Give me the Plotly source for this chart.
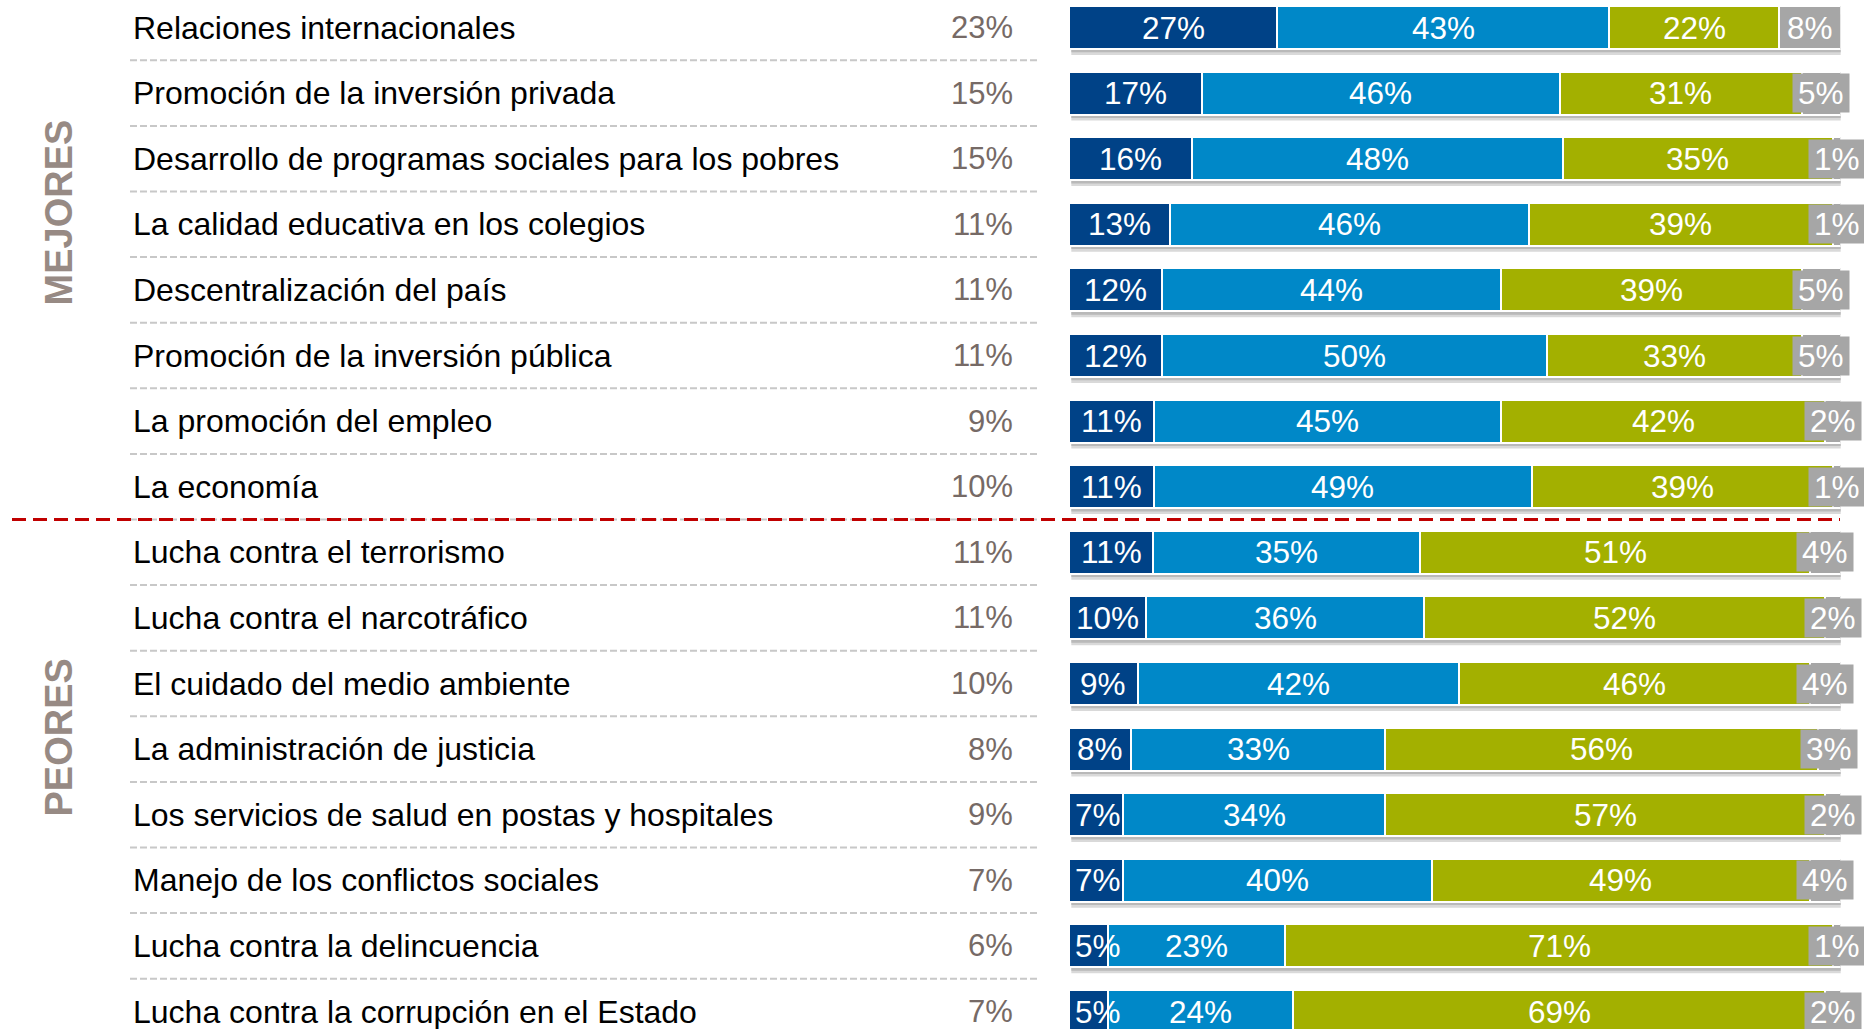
import plotly.graph_objects as go

categories = [
    "Relaciones internacionales",
    "Promoción de la inversión privada",
    "Desarrollo de programas sociales para los pobres",
    "La calidad educativa en los colegios",
    "Descentralización del país",
    "Promoción de la inversión pública",
    "La promoción del empleo",
    "La economía",
    "Lucha contra el terrorismo",
    "Lucha contra el narcotráfico",
    "El cuidado del medio ambiente",
    "La administración de justicia",
    "Los servicios de salud en postas y hospitales",
    "Manejo de los conflictos sociales",
    "Lucha contra la delincuencia",
    "Lucha contra la corrupción en el Estado",
]
column_pct = [23, 15, 15, 11, 11, 11, 9, 10, 11, 11, 10, 8, 9, 7, 6, 7]
s1 = [27, 17, 16, 13, 12, 12, 11, 11, 11, 10, 9, 8, 7, 7, 5, 5]
s2 = [43, 46, 48, 46, 44, 50, 45, 49, 35, 36, 42, 33, 34, 40, 23, 24]
s3 = [22, 31, 35, 39, 39, 33, 42, 39, 51, 52, 46, 56, 57, 49, 71, 69]
s4 = [8, 5, 1, 1, 5, 5, 2, 1, 4, 2, 4, 3, 2, 4, 1, 2]
group_labels = ["MEJORES", "PEORES"]

colors = ["#004287", "#0088c8", "#a3b000", "#a6a6a6"]
FONT = "Arial, Liberation Sans, sans-serif"

W, H = 1864, 1029


def px(xr):
    return xr / W


def py(yr):
    return 1 - yr / H


ROW0, STEP = 27.5, 65.6
X0PX, X1PX = 1069, 1840.7
PX_PER_PCT = (X1PX - X0PX) / 100.0
LBL = 31.5

n = len(categories)
ypos = list(range(n))
series = [s1, s2, s3, s4]

fig = go.Figure()
for vals, col in zip(series, colors):
    fig.add_trace(go.Bar(
        y=ypos, x=vals, orientation="h", width=0.655,
        marker=dict(color=col, line=dict(color="white", width=2)),
        hoverinfo="skip", showlegend=False,
    ))

annotations = []
shapes = []
for i in range(n):
    vals = [s[i] for s in series]
    tot = sum(vals)
    cum = 0.0
    for k, v in enumerate(vals):
        start = cum / tot * 100
        width = v / tot * 100
        cum += v
        center = start + width / 2
        txt = f"{v}%"
        if k == 3:
            annotations.append(dict(
                x=center, y=i, xref="x", yref="y", text=txt, showarrow=False,
                font=dict(family=FONT, size=LBL, color="white"),
                bgcolor=colors[3], borderpad=5, height=28,
                xanchor="center", yanchor="middle"))
        else:
            seg_px = width * PX_PER_PCT
            txt_px = (len(txt) - 1) * 0.556 * LBL + 0.889 * LBL
            if seg_px < txt_px + 14:
                annotations.append(dict(
                    x=start, y=i, xref="x", yref="y", text=txt, showarrow=False,
                    font=dict(family=FONT, size=LBL, color="white"),
                    xanchor="left", yanchor="middle", xshift=4))
            else:
                annotations.append(dict(
                    x=center, y=i, xref="x", yref="y", text=txt, showarrow=False,
                    font=dict(family=FONT, size=LBL, color="white"),
                    xanchor="center", yanchor="middle"))
    # category label
    annotations.append(dict(
        x=px(131), y=i, xref="paper", yref="y", text=categories[i], showarrow=False,
        font=dict(family=FONT, size=32, color="black"),
        xanchor="left", yanchor="middle"))
    annotations.append(dict(
        x=px(1014.5), y=i, xref="paper", yref="y", text=f"{column_pct[i]}%", showarrow=False,
        font=dict(family=FONT, size=31, color="#766a66"),
        xanchor="right", yanchor="middle"))
    # shadow
    shapes.append(dict(type="rect", xref="x", yref="y", layer="below",
                       x0=0.3, x1=100.2, y0=i - 0.2, y1=i + 0.328 + 0.09,
                       fillcolor="#d0d0d0", line=dict(width=0), opacity=0.8))
    shapes.append(dict(type="rect", xref="x", yref="y", layer="below",
                       x0=0.3, x1=100.2, y0=i - 0.2, y1=i + 0.328 + 0.05,
                       fillcolor="#b0b0b0", line=dict(width=0), opacity=0.8))

for i in range(n - 1):
    shapes.append(dict(type="line", xref="paper", yref="y",
                       x0=px(130), x1=px(1037), y0=i + 0.5, y1=i + 0.5,
                       line=dict(color="#c8c8c8", width=2, dash="7px,3px")))

# red divider between groups
shapes.append(dict(type="line", xref="paper", yref="y",
                   x0=px(12), x1=px(1840), y0=7.5, y1=7.5,
                   line=dict(color="#c00000", width=3, dash="14px,7px")))

annotations.append(dict(x=px(58.5), y=py(213), xref="paper", yref="paper",
                        text=f"<b>{group_labels[0]}</b>", textangle=-90, showarrow=False,
                        font=dict(family=FONT, size=38, color="#978a84"),
                        xanchor="center", yanchor="middle"))
annotations.append(dict(x=px(58.5), y=py(738), xref="paper", yref="paper",
                        text=f"<b>{group_labels[1]}</b>", textangle=-90, showarrow=False,
                        font=dict(family=FONT, size=38, color="#978a84"),
                        xanchor="center", yanchor="middle"))

y_top = -ROW0 / STEP
y_bot = (H - ROW0) / STEP

fig.update_layout(
    width=W, height=H, margin=dict(l=0, r=0, t=0, b=0),
    barmode="stack", barnorm="percent",
    paper_bgcolor="white", plot_bgcolor="rgba(0,0,0,0)",
    xaxis=dict(domain=[X0PX / W, X1PX / W], range=[0, 100], visible=False,
               fixedrange=True),
    yaxis=dict(range=[y_bot, y_top], visible=False, fixedrange=True),
    annotations=annotations, shapes=shapes,
    showlegend=False,
)

fig.write_html(
    "out.html",
    config={"displayModeBar": False},
    post_script="document.body.style.margin='0';document.body.style.overflow='hidden';",
)
